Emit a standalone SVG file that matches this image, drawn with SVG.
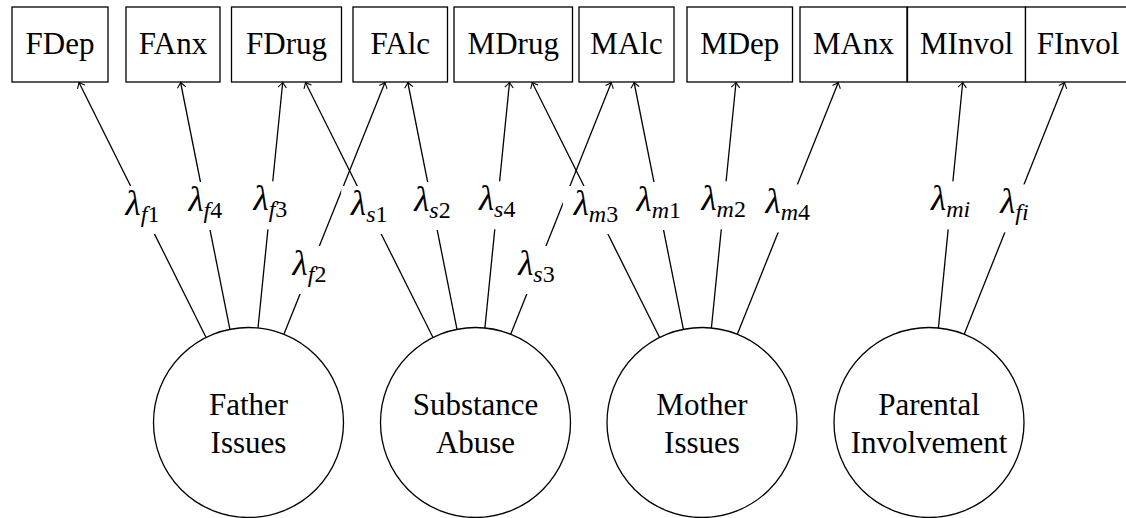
<svg xmlns="http://www.w3.org/2000/svg" width="1126" height="518" viewBox="0 0 1126 518" font-family="Liberation Serif, DejaVu Serif, serif">
<style>
.box{fill:#fff;stroke:#000;stroke-width:1.3}
.circ{fill:#fff;stroke:#000;stroke-width:1.3}
.t{font-size:31px;text-anchor:middle;fill:#000}
.edge{stroke:#000;stroke-width:1.3;fill:none;marker-end:url(#arr)}
.lbl rect{fill:#fff;stroke:none}
.lam{font-size:35px;font-style:italic;text-anchor:middle;fill:#000}
.sub{font-size:24px}
.up{font-style:normal}
</style>
<defs>
<marker id="arr" markerUnits="userSpaceOnUse" viewBox="-7 -6 8 12" refX="0" refY="0" markerWidth="8" markerHeight="12" orient="auto">
<path d="M -5 -4.2 Q -1.3 -0.9 0 0 Q -1.3 0.9 -5 4.2" fill="none" stroke="#000" stroke-width="1.1"/>
</marker>
</defs>
<rect width="1126" height="518" fill="#fff"/>
<g id="FDep"><rect class="box" x="12" y="7" width="96" height="75"/><text class="t" x="60" y="53.5">FDep</text></g>
<g id="FAnx"><rect class="box" x="126" y="7" width="94" height="75"/><text class="t" x="173" y="53.5">FAnx</text></g>
<g id="FDrug"><rect class="box" x="231.5" y="7" width="110" height="75"/><text class="t" x="286.5" y="53.5">FDrug</text></g>
<g id="FAlc"><rect class="box" x="353" y="7" width="94.5" height="75"/><text class="t" x="400.25" y="53.5">FAlc</text></g>
<g id="MDrug"><rect class="box" x="454" y="7" width="118.5" height="75"/><text class="t" x="513.25" y="53.5">MDrug</text></g>
<g id="MAlc"><rect class="box" x="579" y="7" width="95" height="75"/><text class="t" x="626.5" y="53.5">MAlc</text></g>
<g id="MDep"><rect class="box" x="687" y="7" width="105.5" height="75"/><text class="t" x="739.75" y="53.5">MDep</text></g>
<g id="MAnx"><rect class="box" x="800" y="7" width="107" height="75"/><text class="t" x="853.5" y="53.5">MAnx</text></g>
<g id="MInvol"><rect class="box" x="907.5" y="7" width="118" height="75"/><text class="t" x="966.5" y="53.5">MInvol</text></g>
<g id="FInvol"><rect class="box" x="1025.5" y="7" width="108.5" height="75"/><text class="t" x="1078" y="53.5">FInvol</text></g>
<g id="FatherIssues"><circle class="circ" cx="248.5" cy="422.5" r="95"/><text class="t" x="248.5" y="415">Father</text><text class="t" x="248.5" y="453">Issues</text></g>
<g id="SubstanceAbuse"><circle class="circ" cx="475.5" cy="422.5" r="95"/><text class="t" x="475.5" y="415">Substance</text><text class="t" x="475.5" y="453">Abuse</text></g>
<g id="MotherIssues"><circle class="circ" cx="702" cy="422.5" r="95"/><text class="t" x="702" y="415">Mother</text><text class="t" x="702" y="453">Issues</text></g>
<g id="ParentalInvolvement"><circle class="circ" cx="929" cy="422.5" r="95"/><text class="t" x="929" y="415">Parental</text><text class="t" x="929" y="453">Involvement</text></g>
<g id="connectors">
<line class="edge" x1="206.1" y1="337.5" x2="79.0" y2="82.5"/>
<line class="edge" x1="229.9" y1="329.4" x2="180.6" y2="82.5"/>
<line class="edge" x1="258.0" y1="328.0" x2="282.7" y2="82.5"/>
<line class="edge" x1="283.9" y1="334.3" x2="385.0" y2="82.5"/>
<line class="edge" x1="433.0" y1="337.5" x2="305.5" y2="82.5"/>
<line class="edge" x1="457.0" y1="329.3" x2="407.8" y2="82.5"/>
<line class="edge" x1="484.9" y1="328.0" x2="509.5" y2="82.5"/>
<line class="edge" x1="510.7" y1="334.3" x2="611.3" y2="82.5"/>
<line class="edge" x1="659.6" y1="337.5" x2="532.2" y2="82.5"/>
<line class="edge" x1="683.4" y1="329.4" x2="634.1" y2="82.5"/>
<line class="edge" x1="711.4" y1="328.0" x2="736.0" y2="82.5"/>
<line class="edge" x1="737.3" y1="334.3" x2="838.3" y2="82.5"/>
<line class="edge" x1="938.4" y1="328.0" x2="962.7" y2="82.5"/>
<line class="edge" x1="964.2" y1="334.3" x2="1064.6" y2="82.5"/>
</g>
<g id="edge-labels" class="lbl">
<g><rect x="113.5" y="186" width="58" height="48"/><text class="lam" x="142.5" y="215">λ<tspan class="sub" dy="6.5">f</tspan><tspan class="sub up">1</tspan></text></g>
<g><rect x="176.3" y="182" width="58" height="48"/><text class="lam" x="205.3" y="211">λ<tspan class="sub" dy="6.5">f</tspan><tspan class="sub up">4</tspan></text></g>
<g><rect x="241.4" y="181.3" width="58" height="48"/><text class="lam" x="270.4" y="210.3">λ<tspan class="sub" dy="6.5">f</tspan><tspan class="sub up">3</tspan></text></g>
<g><rect x="280.5" y="246" width="58" height="48"/><text class="lam" x="309.5" y="275">λ<tspan class="sub" dy="6.5">f</tspan><tspan class="sub up">2</tspan></text></g>
<g><rect x="341.3" y="186" width="56" height="48"/><text class="lam" x="369.3" y="215">λ<tspan class="sub" dy="6.5">s</tspan><tspan class="sub up">1</tspan></text></g>
<g><rect x="404.4" y="182" width="56" height="48"/><text class="lam" x="432.4" y="211">λ<tspan class="sub" dy="6.5">s</tspan><tspan class="sub up">2</tspan></text></g>
<g><rect x="469.2" y="181.3" width="56" height="48"/><text class="lam" x="497.2" y="210.3">λ<tspan class="sub" dy="6.5">s</tspan><tspan class="sub up">4</tspan></text></g>
<g><rect x="508.4" y="246" width="56" height="48"/><text class="lam" x="536.4" y="275">λ<tspan class="sub" dy="6.5">s</tspan><tspan class="sub up">3</tspan></text></g>
<g><rect x="562.9" y="186" width="66" height="48"/><text class="lam" x="595.9" y="215">λ<tspan class="sub" dy="6.5">m</tspan><tspan class="sub up">3</tspan></text></g>
<g><rect x="625.8" y="182" width="66" height="48"/><text class="lam" x="658.8" y="211">λ<tspan class="sub" dy="6.5">m</tspan><tspan class="sub up">1</tspan></text></g>
<g><rect x="690.7" y="181.3" width="66" height="48"/><text class="lam" x="723.7" y="210.3">λ<tspan class="sub" dy="6.5">m</tspan><tspan class="sub up">2</tspan></text></g>
<g><rect x="754.8" y="184.4" width="66" height="48"/><text class="lam" x="787.8" y="213.4">λ<tspan class="sub" dy="6.5">m</tspan><tspan class="sub up">4</tspan></text></g>
<g><rect x="919.6" y="181.3" width="62" height="48"/><text class="lam" x="950.6" y="210.3">λ<tspan class="sub" dy="6.5">mi</tspan></text></g>
<g><rect x="986.4" y="184.4" width="56" height="48"/><text class="lam" x="1014.4" y="213.4">λ<tspan class="sub" dy="6.5">fi</tspan></text></g>
</g>
</svg>
